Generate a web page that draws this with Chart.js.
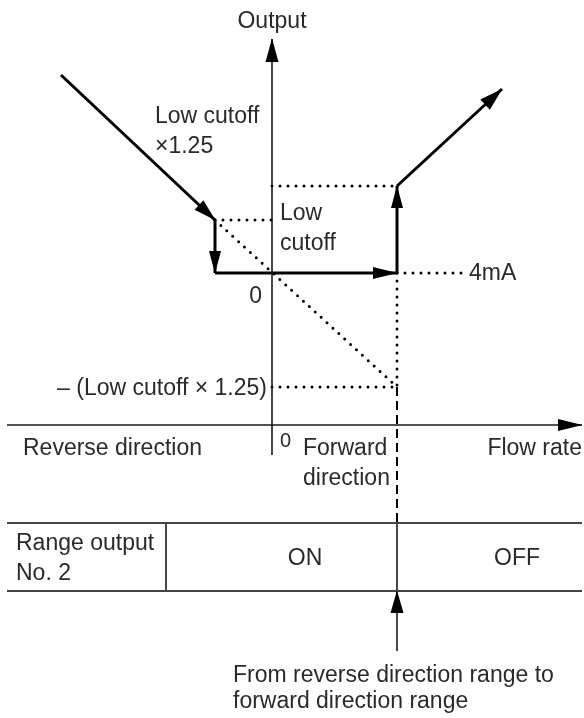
<!DOCTYPE html>
<html>
<head>
<meta charset="utf-8">
<script src="https://cdn.jsdelivr.net/npm/chart.js@4/dist/chart.umd.min.js"></script>
<style>
  html, body { margin: 0; padding: 0; background: #fff; }
  #wrap { position: relative; width: 584px; height: 718px; overflow: hidden; }
</style>
</head>
<body>
<div id="wrap"><canvas id="c"></canvas></div>
<script>
// ---- Diagram data (x = flow rate, y = output; arbitrary diagram units, origin = 0 flow / 0 output) ----
const reverseCurve   = [[-21.1, 19.8], [-5.7, 5.3]];   // reverse-direction output, falling toward low cutoff x1.25
const dropStep       = [[-5.7, 5.3], [-5.7, 0]];       // step down to 0 (4mA)
const zeroRun        = [[-5.7, 0], [12.5, 0]];         // held at 4mA
const riseStep       = [[12.5, 0], [12.5, 8.7]];       // step up in forward range
const forwardCurve   = [[12.5, 8.7], [23.0, 18.4]];    // forward-direction output
const lowCutoffGuide = [[-5.7, 5.3], [0, 5.3]];
const upperGuide     = [[0, 8.7], [12.5, 8.7]];
const fourMaGuide    = [[12.5, 0], [19.0, 0]];
const diagonalGuide  = [[-5.7, 5.3], [12.5, -11.4]];
const negCutoffGuide = [[0, -11.4], [12.5, -11.4]];
const switchGuide    = [[12.5, 0], [12.5, -11.4]];
const switchDashed   = [[12.5, -11.4], [12.5, -25.0]];
const outputAxis     = [[0, -18.2], [0, 23.4]];
const flowAxis       = [[-26.5, -15.2], [31.0, -15.2]];
const tableTop       = [[-26.5, -25.0], [31.0, -25.0]];
const tableBottom    = [[-26.5, -31.8], [31.0, -31.8]];
const tableDivider1  = [[-10.6, -25.0], [-10.6, -31.8]];
const tableDivider2  = [[12.5, -25.0], [12.5, -31.8]];
const switchPointer  = [[12.5, -37.8], [12.5, -31.8]];

// text labels: [text, x, y(baseline), align, fontSize]
const labels = [
  ["Output", 0, 24.5, "center", 23],
  ["Low cutoff", -11.7, 15.0, "left", 23],
  ["\u00d71.25", -11.7, 12.0, "left", 23],
  ["Low", 0.8, 5.3, "left", 23],
  ["cutoff", 0.8, 2.3, "left", 23],
  ["4mA", 19.7, -0.7, "left", 23],
  ["0", -1.0, -3.0, "right", 23],
  ["\u2013 (Low cutoff \u00d7 1.25)", -0.5, -12.2, "right", 23],
  ["Reverse direction", -24.9, -18.2, "left", 23],
  ["0", 0.8, -17.4, "left", 20],
  ["Forward", 3.1, -18.2, "left", 23],
  ["direction", 3.1, -21.2, "left", 23],
  ["Flow rate", 31.0, -18.2, "right", 23],
  ["Range output", -25.6, -27.7, "left", 23],
  ["No. 2", -25.6, -30.7, "left", 23],
  ["ON", 3.3, -29.2, "center", 23],
  ["OFF", 24.5, -29.2, "center", 23],
  ["From reverse direction range to", -3.9, -40.9, "left", 23],
  ["forward direction range", -3.9, -43.5, "left", 23]
];

const pts = a => a.map(p => ({x: p[0], y: p[1]}));

const STYLE = {
  thick:  {borderColor: "#000", borderWidth: 3, borderDash: [], borderCapStyle: "butt"},
  dotted: {borderColor: "#000", borderWidth: 3, borderDash: [0, 8], borderCapStyle: "round"},
  dashed: {borderColor: "#000", borderWidth: 2, borderDash: [9, 5], borderCapStyle: "butt"},
  axis:   {borderColor: "#1a1a1a", borderWidth: 1.6, borderDash: [], borderCapStyle: "butt"},
  table:  {borderColor: "#444", borderWidth: 2, borderDash: [], borderCapStyle: "butt"}
};

function seg(data, style, arrow) {
  return Object.assign({
    data: pts(data), showLine: true, pointRadius: 0, pointHoverRadius: 0,
    fill: false, tension: 0, clip: false, arrow: arrow || null
  }, STYLE[style]);
}

const datasets = [
  seg(outputAxis, "axis", {len: 23, w: 13}),
  seg(flowAxis, "axis", {len: 24, w: 12}),
  seg(tableTop, "table"),
  seg(tableBottom, "table"),
  seg(tableDivider1, "axis"),
  seg(tableDivider2, "axis"),
  seg(switchPointer, "axis", {len: 22, w: 13}),
  seg(lowCutoffGuide, "dotted"),
  seg(upperGuide, "dotted"),
  seg(fourMaGuide, "dotted"),
  seg(diagonalGuide, "dotted"),
  seg(negCutoffGuide, "dotted"),
  seg(switchGuide, "dotted"),
  seg(switchDashed, "dashed"),
  seg(reverseCurve, "thick", {len: 22, w: 13}),
  seg(dropStep, "thick", {len: 22, w: 12}),
  seg(zeroRun, "thick", {len: 24, w: 12}),
  seg(riseStep, "thick", {len: 22, w: 12}),
  seg(forwardCurve, "thick", {len: 23, w: 14})
];

const diagramPlugin = {
  id: "diagram",
  afterDatasetsDraw(chart) {
    const ctx = chart.ctx;
    const xs = chart.scales.x, ys = chart.scales.y;
    ctx.save();
    chart.data.datasets.forEach((ds, i) => {
      if (!ds.arrow) return;
      const meta = chart.getDatasetMeta(i);
      const n = meta.data.length;
      const a = meta.data[n - 2], b = meta.data[n - 1];
      const ang = Math.atan2(b.y - a.y, b.x - a.x);
      const L = ds.arrow.len, W = ds.arrow.w / 2;
      ctx.fillStyle = ds.borderColor === "#1a1a1a" ? "#000" : ds.borderColor;
      ctx.beginPath();
      ctx.moveTo(b.x + Math.cos(ang) * 0.5, b.y + Math.sin(ang) * 0.5);
      ctx.lineTo(b.x - Math.cos(ang) * L - Math.sin(ang) * W, b.y - Math.sin(ang) * L + Math.cos(ang) * W);
      ctx.lineTo(b.x - Math.cos(ang) * L + Math.sin(ang) * W, b.y - Math.sin(ang) * L - Math.cos(ang) * W);
      ctx.closePath();
      ctx.fill();
    });
    ctx.fillStyle = "#2a2a2a";
    ctx.textBaseline = "alphabetic";
    labels.forEach(([t, x, y, align, size]) => {
      ctx.font = size + "px 'Liberation Sans', Arial, sans-serif";
      ctx.textAlign = align;
      ctx.fillText(t, xs.getPixelForValue(x), ys.getPixelForValue(y));
    });
    ctx.restore();
  }
};

new Chart(document.getElementById("c"), {
  type: "scatter",
  data: {datasets},
  options: {
    responsive: true,
    maintainAspectRatio: false,
    animation: false,
    events: [],
    layout: {padding: 0},
    plugins: {legend: {display: false}, tooltip: {enabled: false}, title: {display: false}},
    scales: {
      x: {type: "linear", display: false, min: -27.2, max: 31.2},
      y: {type: "linear", display: false, min: -44.5, max: 27.3}
    }
  },
  plugins: [diagramPlugin]
});
</script>
</body>
</html>
